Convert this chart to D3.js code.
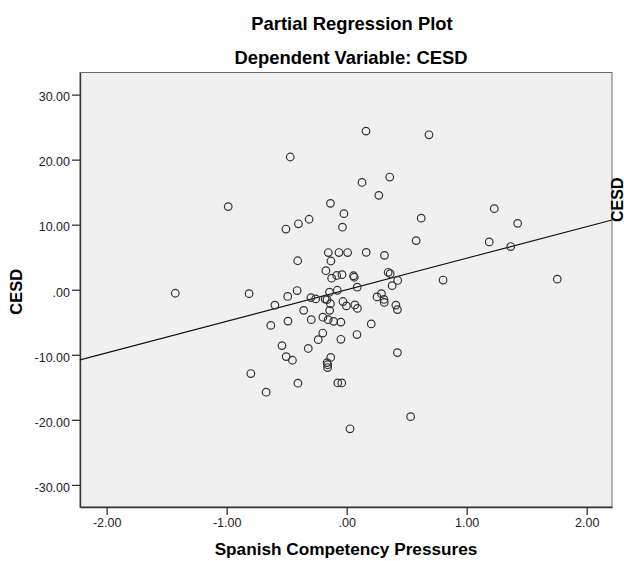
<!DOCTYPE html>
<html>
<head>
<meta charset="utf-8">
<script src="https://cdn.jsdelivr.net/npm/d3@7"></script>
<style>
  html, body { margin: 0; padding: 0; background: #fff; }
  svg { display: block; font-family: "Liberation Sans", Arial, sans-serif; }
</style>
</head>
<body>
<svg id="chart" width="624" height="561"></svg>
<script>
// ---- data ----
const title = "Partial Regression Plot";
const subtitle = "Dependent Variable: CESD";
const xTitle = "Spanish Competency Pressures";
const yTitle = "CESD";
const fitLabel = "CESD";

const xTicks = [-2, -1, 0, 1, 2];
const yTicks = [-30, -20, -10, 0, 10, 20, 30];
const xDomain = [-2.222, 2.211];
const yDomain = [-33.4, 33.4];

const fitSlope = 4.85;
const fitIntercept = 0;

const xValues = [
  0.161, 0.686, -0.470, 0.128, 0.359, 0.268, -0.987, -0.135, -0.023, -0.506,
  -0.402, -0.313, -0.035, 0.621, 1.230, 1.425, 0.579, 1.188, 1.367, -0.408,
  -0.153, -0.064, 0.008, 0.163, 0.315, -0.131, -0.173, -0.125, -0.083, -0.039,
  0.057, 0.063, 0.346, 0.363, 0.425, 0.379, 0.803, 1.755, -1.428, -0.813,
  -0.413, -0.491, -0.598, -0.298, -0.258, -0.179, -0.164, -0.143, -0.078, 0.088,
  -0.135, -0.031, -0.002, 0.068, 0.090, 0.253, 0.290, 0.311, 0.313, 0.410,
  0.423, -0.358, -0.142, -0.632, -0.489, -0.295, -0.198, -0.154, -0.108, -0.048,
  0.205, -0.199, -0.237, -0.048, 0.086, 0.423, -0.539, -0.320, -0.504, -0.452,
  -0.133, -0.163, -0.158, -0.159, -0.798, -0.406, -0.074, -0.041, -0.671, 0.028,
  0.533
];
const yValues = [
  24.39, 23.82, 20.41, 16.50, 17.33, 14.51, 12.78, 13.28, 11.70, 9.33,
  10.14, 10.84, 9.62, 11.01, 12.47, 10.21, 7.56, 7.36, 6.64, 4.46,
  5.72, 5.72, 5.72, 5.75, 5.29, 4.42, 2.93, 1.78, 2.19, 2.32,
  2.15, 1.92, 2.68, 2.47, 1.43, 0.63, 1.49, 1.63, -0.54, -0.60,
  -0.12, -1.03, -2.36, -1.21, -1.41, -1.44, -1.53, -0.38, -0.08, 0.40,
  -2.15, -1.81, -2.48, -2.33, -2.87, -1.10, -0.60, -1.49, -1.95, -2.36,
  -3.05, -3.17, -3.17, -5.48, -4.82, -4.60, -4.22, -4.60, -4.86, -4.97,
  -5.25, -6.66, -7.67, -7.62, -6.89, -9.66, -8.59, -9.03, -10.28, -10.84,
  -10.41, -11.20, -11.53, -11.96, -12.88, -14.37, -14.33, -14.33, -15.75, -21.38,
  -19.51
];

// ---- layout ----
const plot = { left: 80, right: 612, top: 72.5, bottom: 507 };
const svg = d3.select("#chart");

const x = d3.scaleLinear().domain(xDomain).range([plot.left, plot.right]);
const y = d3.scaleLinear().domain(yDomain).range([plot.bottom, plot.top]);

// SPSS style: ".00" for zero, ASCII hyphen for negatives
const fmt = v => {
  if (v === 0) return ".00";
  return (v < 0 ? "-" : "") + Math.abs(v).toFixed(2);
};

// background
svg.append("rect")
  .attr("x", plot.left).attr("y", plot.top)
  .attr("width", plot.right - plot.left).attr("height", plot.bottom - plot.top)
  .attr("fill", "#f0f0f0").attr("stroke", "#6a6a6a").attr("stroke-width", 1);

// axes
const yAxis = d3.axisLeft(y).tickValues(yTicks).tickFormat(fmt).tickSize(8).tickSizeOuter(0).tickPadding(2);
const gy = svg.append("g").attr("transform", `translate(${plot.left},0)`).call(yAxis);
gy.select(".domain").attr("stroke", "#333").attr("stroke-width", 1.3);
gy.selectAll(".tick line").attr("stroke", "#333").attr("stroke-width", 1.3);
gy.selectAll(".tick text").attr("fill", "#222").attr("font-size", "12.5px")
  .attr("font-family", "Liberation Sans, Arial, sans-serif").attr("dy", "0.5em");

const xAxis = d3.axisBottom(x).tickValues(xTicks).tickFormat(fmt).tickSize(8).tickSizeOuter(0).tickPadding(3);
const gx = svg.append("g").attr("transform", `translate(0,${plot.bottom})`).call(xAxis);
gx.select(".domain").attr("stroke", "#333").attr("stroke-width", 1.3);
gx.selectAll(".tick line").attr("stroke", "#333").attr("stroke-width", 1.3);
gx.selectAll(".tick text").attr("fill", "#222").attr("font-size", "12.5px")
  .attr("font-family", "Liberation Sans, Arial, sans-serif");

// fit line
const fitData = xDomain.map(v => ({ x: v, y: fitIntercept + fitSlope * v }));
svg.append("path")
  .datum(fitData)
  .attr("d", d3.line().x(d => x(d.x)).y(d => y(d.y)))
  .attr("fill", "none").attr("stroke", "#111").attr("stroke-width", 1.1);

// points
const pts = xValues.map((v, i) => ({ x: v, y: yValues[i] }));
svg.append("g").selectAll("circle").data(pts).join("circle")
  .attr("cx", d => x(d.x)).attr("cy", d => y(d.y)).attr("r", 3.8)
  .attr("fill", "none").attr("stroke", "#333").attr("stroke-width", 1.2);

// fit label
const endY = fitIntercept + fitSlope * xDomain[1];
svg.append("text")
  .attr("transform", `translate(${x(xDomain[1]) + 10.5},${y(endY) + 2}) rotate(-90)`)
  .attr("text-anchor", "start")
  .attr("font-size", "16px").attr("font-weight", "bold").attr("fill", "#000")
  .text(fitLabel);

// titles
svg.append("text").attr("x", 352).attr("y", 29.5).attr("text-anchor", "middle")
  .attr("font-size", "18.4px").attr("font-weight", "bold").attr("fill", "#000").text(title);
svg.append("text").attr("x", 351).attr("y", 64).attr("text-anchor", "middle")
  .attr("font-size", "18.4px").attr("font-weight", "bold").attr("fill", "#000").text(subtitle);
svg.append("text").attr("x", 346).attr("y", 555).attr("text-anchor", "middle")
  .attr("font-size", "17.2px").attr("font-weight", "bold").attr("fill", "#000").text(xTitle);
svg.append("text").attr("transform", `translate(22,${y(0) + 2}) rotate(-90)`).attr("text-anchor", "middle")
  .attr("font-size", "16.5px").attr("font-weight", "bold").attr("fill", "#000").text(yTitle);
</script>
</body>
</html>
